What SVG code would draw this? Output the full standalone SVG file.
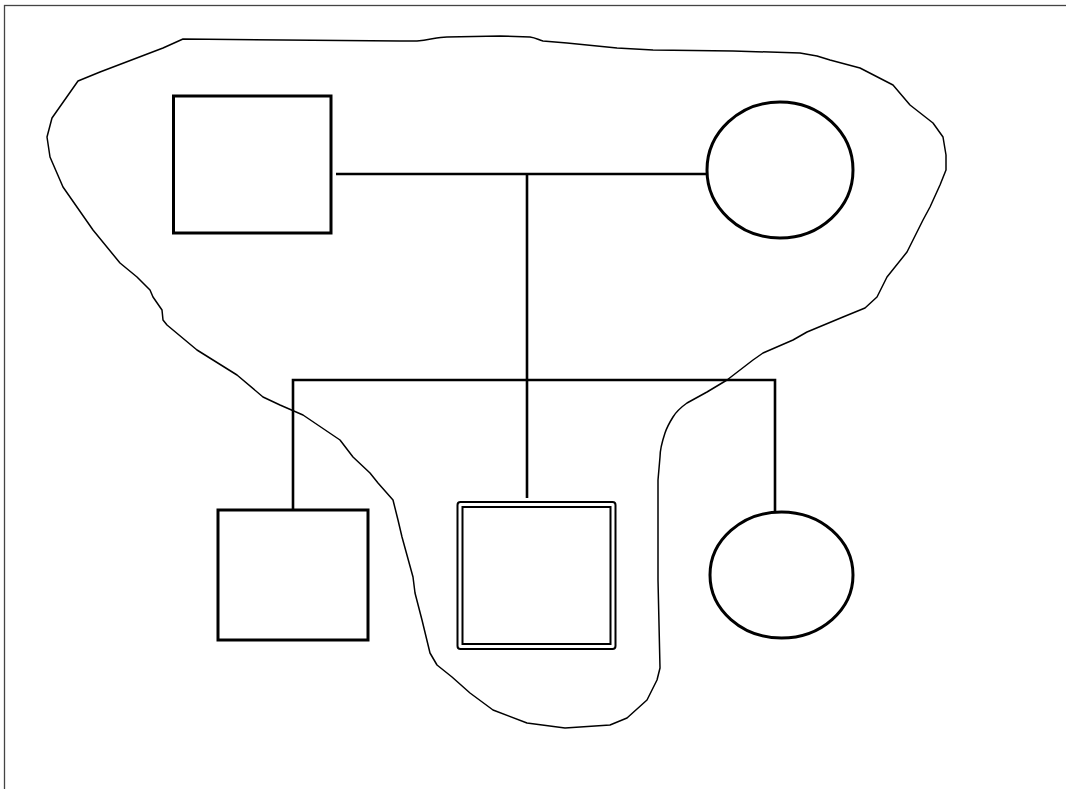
<svg xmlns="http://www.w3.org/2000/svg" width="1066" height="789" viewBox="0 0 1066 789">
<style>
.frame{fill:none;stroke:#444;stroke-width:1.3}
.node{fill:none;stroke:#000;stroke-width:3}
.dbl{fill:none;stroke:#000;stroke-width:2}
.edge{fill:none;stroke:#000;stroke-width:2.6}
.lasso{fill:none;stroke:#000;stroke-width:1.5;stroke-linejoin:round}
</style>
<rect width="1066" height="789" fill="#fff"/>
<rect class="frame" x="4.5" y="5.5" width="1080" height="800"/>
<path class="lasso" d="M183,39 L400,41 L417,41 C430,40 437,37 447,37 L500,36 L530,37 C537,38 538,40 543,41 L567,43 L617,48 L653,50 L733,51 L800,53 L817,56 L830,60 L860,68 L893,85 L910,105 L933,123 L943,137 L946,155 L946,170 L940,185 L930,207 L923,220 L907,252 L887,277 L877,297 L865,308 L843,317 L807,332 L793,340 L763,353 L753,360 L727,380 L707,392 L687,403 C680,408 676,412 673,417 C668,425 666,430 665,433 C661,445 660,450 660,457 L658,480 L658,580 L660,668 L657,680 L647,700 L627,718 L610,725 L565,728 L527,723 L493,710 L470,693 L452,677 L437,665 L430,653 L422,620 L415,593 L413,577 L402,537 L398,520 L393,500 L378,483 L370,473 L353,457 L340,440 L303,415 L280,405 L263,397 L237,375 L197,350 L167,325 L163,320 L162,310 L153,297 L150,290 L137,277 L120,263 L93,230 L63,187 L50,157 L47,137 L52,118 L78,81 L100,72 L163,48 Z"/>
<g id="connectors">
<line class="edge" x1="336" y1="174" x2="707" y2="174"/>
<line class="edge" x1="527" y1="174" x2="527" y2="498"/>
<polyline class="edge" points="293,510 293,380 775,380 775,512"/>
</g>
<g id="father"><rect class="node" x="173.5" y="96" width="157.5" height="137"/></g>
<g id="mother"><ellipse class="node" cx="780" cy="170" rx="73" ry="68"/></g>
<g id="son1"><rect class="node" x="218" y="510" width="150" height="130"/></g>
<g id="proband">
<rect class="dbl" x="457.5" y="502" width="158" height="147" rx="3"/>
<rect class="dbl" x="462.5" y="507" width="148" height="137"/>
</g>
<g id="daughter"><ellipse class="node" cx="781.5" cy="575" rx="71.5" ry="63"/></g>
</svg>
